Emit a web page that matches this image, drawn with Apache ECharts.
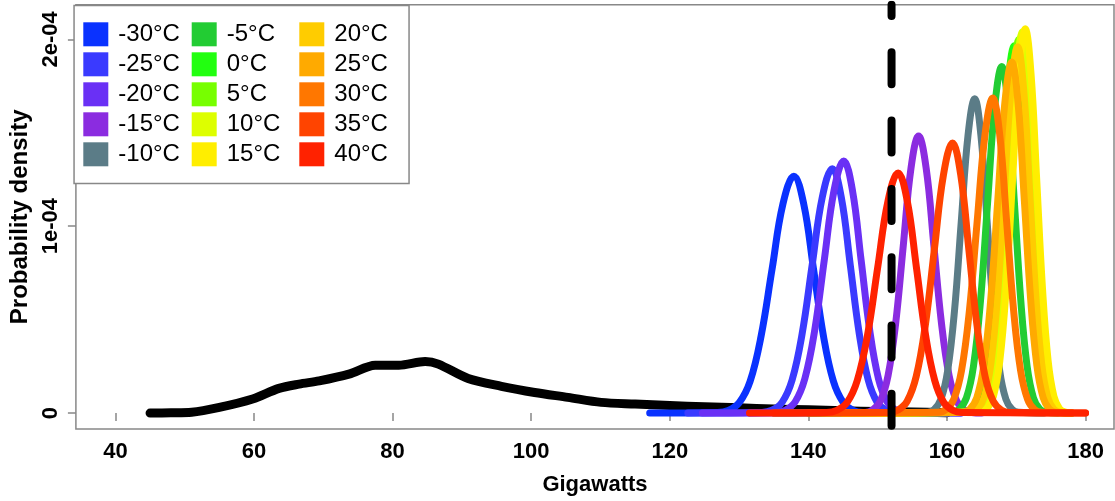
<!DOCTYPE html>
<html>
<head>
<meta charset="utf-8">
<script src="https://cdn.jsdelivr.net/npm/echarts@6/dist/echarts.min.js"></script>
<style>
html,body{margin:0;padding:0;background:#fff;}
#chart{width:1115px;height:501px;}
</style>
</head>
<body>
<div id="chart"></div>
<script>
// ---- data ----
const xTicks = [40, 60, 80, 100, 120, 140, 160, 180];
const yTickValues = [0, 1e-4, 2e-4];
const yTickLabels = ['0', '1e-04', '2e-04'];
const tempLabels = ['-30°C','-25°C','-20°C','-15°C','-10°C','-5°C','0°C','5°C','10°C','15°C','20°C','25°C','30°C','35°C','40°C'];
const tempColors = ['#0A32FF','#3A3AFF','#6A30F5','#8B2CE0','#5B7C87','#22CC33','#22FF10','#77FF00','#DDFF00','#FFEE00','#FFCC00','#FFAA00','#FF7700','#FF4400','#FF2200'];
const thresholdGW = 152;

const historical = [[45,0],[48,0.001e-4],[51,0.004e-4],[55,0.03e-4],[59.8,0.075e-4],[63.6,0.132e-4],[66.5,0.155e-4],[69.4,0.172e-4],[73.7,0.208e-4],[77.5,0.256e-4],[80.9,0.256e-4],[84.7,0.276e-4],[86.6,0.262e-4],[90.9,0.185e-4],[95.7,0.143e-4],[100.5,0.110e-4],[105.3,0.084e-4],[110.1,0.057e-4],[115,0.048e-4],[120,0.040e-4],[125,0.034e-4],[130,0.028e-4],[135,0.022e-4],[140,0.017e-4],[145,0.012e-4],[150,0.008e-4],[155,0.005e-4],[160,0.002e-4]];

const tm30 = [[117.1,0],[126.87,0.003e-4],[128.45,0.014e-4],[130.02,0.056e-4],[131.6,0.171e-4],[133.17,0.411e-4],[134.75,0.768e-4],[136.32,1.118e-4],[137.9,1.267e-4],[139.33,1.118e-4],[140.75,0.768e-4],[142.18,0.411e-4],[143.6,0.171e-4],[145.03,0.056e-4],[146.45,0.014e-4],[147.88,0.003e-4],[160,0]];
const tm25 = [[122.6,0],[133.3,0.003e-4],[134.75,0.015e-4],[136.2,0.057e-4],[137.65,0.177e-4],[139.1,0.425e-4],[140.55,0.793e-4],[142.0,1.154e-4],[143.45,1.308e-4],[144.75,1.154e-4],[146.04,0.793e-4],[147.34,0.425e-4],[148.63,0.177e-4],[149.93,0.057e-4],[151.22,0.015e-4],[152.52,0.003e-4],[162,0]];
const tm20 = [[124.7,0],[135.27,0.003e-4],[136.67,0.015e-4],[138.08,0.059e-4],[139.48,0.183e-4],[140.89,0.438e-4],[142.29,0.818e-4],[143.70,1.191e-4],[145.1,1.349e-4],[146.36,1.191e-4],[147.61,0.818e-4],[148.87,0.438e-4],[150.12,0.183e-4],[151.38,0.059e-4],[152.63,0.015e-4],[153.89,0.003e-4],[162,0]];
const tm15 = [[131.5,0],[148.2,0.003e-4],[149.3,0.017e-4],[150.4,0.065e-4],[151.5,0.201e-4],[152.6,0.482e-4],[153.7,0.899e-4],[154.8,1.309e-4],[155.9,1.483e-4],[157.0,1.309e-4],[158.1,0.899e-4],[159.2,0.482e-4],[160.3,0.201e-4],[161.4,0.065e-4],[162.5,0.017e-4],[163.6,0.003e-4],[165,0]];
const tm10 = [[135,0],[157.18,0.004e-4],[158.15,0.019e-4],[159.13,0.074e-4],[160.1,0.228e-4],[161.08,0.546e-4],[162.05,1.020e-4],[163.03,1.484e-4],[164.0,1.682e-4],[164.9,1.484e-4],[165.8,1.020e-4],[166.7,0.546e-4],[167.6,0.228e-4],[168.5,0.074e-4],[169.4,0.019e-4],[170.3,0.004e-4],[174,0]];
const tm5 = [[140,0],[160.76,0.004e-4],[161.78,0.021e-4],[162.8,0.081e-4],[163.82,0.251e-4],[164.84,0.602e-4],[165.86,1.125e-4],[166.88,1.636e-4],[167.9,1.854e-4],[168.82,1.636e-4],[169.73,1.125e-4],[170.65,0.602e-4],[171.56,0.251e-4],[172.48,0.081e-4],[173.39,0.021e-4],[174.31,0.004e-4],[176,0]];
const t0 = [[145,0],[162.95,0.004e-4],[163.91,0.022e-4],[164.88,0.086e-4],[165.84,0.266e-4],[166.81,0.638e-4],[167.77,1.192e-4],[168.74,1.735e-4],[169.7,1.966e-4],[170.56,1.735e-4],[171.42,1.192e-4],[172.28,0.638e-4],[173.14,0.266e-4],[174.0,0.086e-4],[174.86,0.022e-4],[175.72,0.004e-4],[178,0]];
const tp5 = [[145,0],[163.75,0.004e-4],[164.7,0.022e-4],[165.65,0.088e-4],[166.6,0.271e-4],[167.55,0.649e-4],[168.5,1.213e-4],[169.45,1.765e-4],[170.4,2.000e-4],[171.25,1.765e-4],[172.1,1.213e-4],[172.95,0.649e-4],[173.8,0.271e-4],[174.65,0.088e-4],[175.5,0.022e-4],[176.35,0.004e-4],[178,0]];
const tp10 = [[145,0],[164.39,0.005e-4],[165.32,0.023e-4],[166.25,0.090e-4],[167.18,0.276e-4],[168.11,0.662e-4],[169.04,1.237e-4],[169.97,1.800e-4],[170.9,2.040e-4],[171.73,1.800e-4],[172.56,1.237e-4],[173.39,0.662e-4],[174.22,0.276e-4],[175.05,0.090e-4],[175.88,0.023e-4],[176.71,0.005e-4],[178,0]];
const tp15 = [[145,0],[164.86,0.005e-4],[165.78,0.023e-4],[166.7,0.090e-4],[167.62,0.278e-4],[168.54,0.668e-4],[169.46,1.247e-4],[170.38,1.814e-4],[171.3,2.056e-4],[172.13,1.814e-4],[172.95,1.247e-4],[173.78,0.668e-4],[174.6,0.278e-4],[175.43,0.090e-4],[176.25,0.023e-4],[177.08,0.005e-4],[178,0]];
const tp20 = [[145,0],[163.45,0.004e-4],[164.41,0.022e-4],[165.38,0.086e-4],[166.34,0.265e-4],[167.31,0.636e-4],[168.27,1.189e-4],[169.24,1.730e-4],[170.2,1.960e-4],[171.07,1.730e-4],[171.93,1.189e-4],[172.8,0.636e-4],[173.66,0.265e-4],[174.53,0.086e-4],[175.39,0.022e-4],[176.26,0.004e-4],[178,0]];
const tp25 = [[142,0],[162.28,0.004e-4],[163.29,0.021e-4],[164.3,0.082e-4],[165.31,0.254e-4],[166.32,0.610e-4],[167.33,1.139e-4],[168.34,1.657e-4],[169.35,1.878e-4],[170.26,1.657e-4],[171.16,1.139e-4],[172.07,0.610e-4],[172.97,0.254e-4],[173.88,0.082e-4],[174.78,0.021e-4],[175.69,0.004e-4],[178,0]];
const tp30 = [[140,0],[158.73,0.004e-4],[159.85,0.019e-4],[160.98,0.074e-4],[162.1,0.228e-4],[163.23,0.547e-4],[164.35,1.023e-4],[165.48,1.488e-4],[166.6,1.686e-4],[167.61,1.488e-4],[168.61,1.023e-4],[169.62,0.547e-4],[170.62,0.228e-4],[171.63,0.074e-4],[172.63,0.019e-4],[173.64,0.004e-4],[178,0]];
const tp35 = [[135,0],[151.63,0.003e-4],[152.94,0.016e-4],[154.25,0.063e-4],[155.56,0.196e-4],[156.87,0.469e-4],[158.18,0.876e-4],[159.49,1.275e-4],[160.8,1.445e-4],[161.98,1.275e-4],[163.15,0.876e-4],[164.33,0.469e-4],[165.5,0.196e-4],[166.68,0.063e-4],[167.85,0.016e-4],[169.03,0.003e-4],[180,0]];
const tp40 = [[131.5,0],[142.63,0.003e-4],[144.1,0.014e-4],[145.58,0.056e-4],[147.05,0.174e-4],[148.53,0.417e-4],[150.0,0.779e-4],[151.48,1.134e-4],[152.95,1.285e-4],[154.27,1.134e-4],[155.59,0.779e-4],[156.91,0.417e-4],[158.23,0.174e-4],[159.55,0.056e-4],[160.87,0.014e-4],[162.19,0.003e-4],[180,0]];

const tempSeriesData = [tm30, tm25, tm20, tm15, tm10, tm5, t0, tp5, tp10, tp15, tp20, tp25, tp30, tp35, tp40];

// ---- chart ----
const FONT = "'Liberation Sans', Arial, Helvetica, sans-serif";
const X_MIN = 34.3, X_MAX = 184.1, Y_MIN = -0.0854e-4, Y_MAX = 2.1853e-4;

const series = [];
series.push({
  name: 'historical', type: 'line', data: historical, showSymbol: false, smooth: 0.3,
  lineStyle: { color: '#000', width: 9, cap: 'round', join: 'round' },
  itemStyle: { color: '#000' }, z: 2, silent: true
});
tempSeriesData.forEach((d, i) => {
  series.push({
    name: tempLabels[i], type: 'line', data: d, showSymbol: false, smooth: 0.4,
    lineStyle: { color: tempColors[i], width: 7, cap: 'round', join: 'round' },
    itemStyle: { color: tempColors[i] }, z: 3, silent: true
  });
});
series.push({
  name: 'threshold', type: 'line', showSymbol: false, clip: true,
  data: [[thresholdGW, Y_MAX], [thresholdGW, Y_MIN]],
  lineStyle: { color: '#000', width: 8, type: [32, 36.3], dashOffset: 20.7, cap: 'round' },
  z: 4, silent: true
});

const legendLefts = [83.3, 191.7, 299.3];
const legends = [0, 1, 2].map(c => ({
  data: tempLabels.slice(c * 5, c * 5 + 5),
  orient: 'vertical', left: legendLefts[c], top: 22.3, padding: 0,
  itemWidth: 25, itemHeight: 24, itemGap: 6, icon: 'rect',
  selectedMode: false, z: 6,
  textStyle: { fontSize: 24, color: '#000', fontFamily: FONT, padding: [0, 0, 0, 5] }
}));

const chart = echarts.init(document.getElementById('chart'), null, { renderer: 'canvas' });
chart.setOption({
  animation: false,
  backgroundColor: '#fff',
  grid: { left: 73.3, top: 4.7, right: 1, bottom: 71, show: true, borderColor: '#888', borderWidth: 1.5, backgroundColor: 'transparent' },
  xAxis: {
    type: 'value', min: X_MIN, max: X_MAX,
    name: 'Gigawatts', nameLocation: 'middle', nameGap: 45,
    nameTextStyle: { fontSize: 22, fontWeight: 'bold', color: '#000', fontFamily: FONT },
    axisLine: { show: false },
    axisTick: { show: true, length: 8, customValues: xTicks, lineStyle: { color: '#888', width: 1.5 } },
    axisLabel: { customValues: xTicks, fontSize: 22, fontWeight: 'bold', color: '#000', fontFamily: FONT, margin: 12, formatter: v => String(v) },
    splitLine: { show: false }
  },
  yAxis: {
    type: 'value', min: Y_MIN, max: Y_MAX,
    name: 'Probability density', nameLocation: 'middle', nameGap: 40, nameRotate: 90,
    nameTextStyle: { fontSize: 24, fontWeight: 'bold', color: '#000', fontFamily: FONT },
    axisLine: { show: false },
    axisTick: { show: true, length: 8, customValues: yTickValues, lineStyle: { color: '#888', width: 1.5 } },
    axisLabel: {
      customValues: yTickValues, rotate: 90, fontSize: 22, fontWeight: 'bold', color: '#000', fontFamily: FONT, margin: 14,
      formatter: v => { const i = yTickValues.findIndex(t => Math.abs(t - v) < 1e-9); return i >= 0 ? yTickLabels[i] : ''; }
    },
    splitLine: { show: false }
  },
  legend: legends,
  graphic: [{
    type: 'rect', left: 73.3, top: 4.7, z: 1,
    shape: { width: 335, height: 178 },
    style: { fill: '#fff', stroke: '#888', lineWidth: 1.5 }
  }],
  series: series
});
</script>
</body>
</html>
